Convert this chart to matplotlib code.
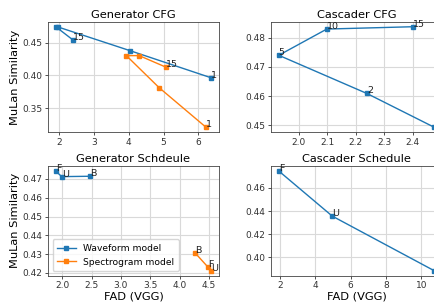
import matplotlib
matplotlib.use("Agg")
import matplotlib.pyplot as plt

# ── data ──
# Generator CFG (guidance scales 1, 2, 5, 10, 15)
gen_cfg_labels = ["1", "", "", "", "15"]
gen_cfg_wave_fad = [6.37, 4.03, 1.97, 1.90, 2.39]
gen_cfg_wave_mulan = [0.3964, 0.4381, 0.4742, 0.4747, 0.4546]
gen_cfg_spec_fad = [6.22, 4.87, 3.93, 4.30, 5.06]
gen_cfg_spec_mulan = [0.3206, 0.3814, 0.4304, 0.4304, 0.4129]

# Cascader CFG
cas_cfg_labels = ["1", "2", "5", "10", "15"]
cas_cfg_fad = [2.476, 2.239, 1.929, 2.098, 2.400]
cas_cfg_mulan = [0.4493, 0.4609, 0.4740, 0.4830, 0.4838]

# Generator schedule
sched_labels = ["F", "U", "B"]
gen_sched_wave_fad = [1.89, 1.99, 2.48]
gen_sched_wave_mulan = [0.4742, 0.4712, 0.4714]
gen_sched_spec_fad = [4.49, 4.54, 4.27]
gen_sched_spec_mulan = [0.4230, 0.4212, 0.4305]

# Cascader schedule
cas_sched_fad = [1.94, 4.96, 10.72]
cas_sched_mulan = [0.4746, 0.4357, 0.3886]

# tick positions
gen_cfg_xticks = [2, 3, 4, 5, 6]
gen_cfg_yticks = [0.35, 0.40, 0.45]
cas_cfg_xticks = [2.0, 2.1, 2.2, 2.3, 2.4]
cas_cfg_yticks = [0.45, 0.46, 0.47, 0.48]
gen_sched_xticks = [2.0, 2.5, 3.0, 3.5, 4.0, 4.5]
gen_sched_yticks = [0.42, 0.43, 0.44, 0.45, 0.46, 0.47]
cas_sched_xticks = [2, 4, 6, 8, 10]
cas_sched_yticks = [0.40, 0.42, 0.44, 0.46]

C_WAVE = "#1f77b4"
C_SPEC = "#ff7f0e"

plt.rcParams["font.family"] = "DejaVu Sans"
plt.rcParams["axes.edgecolor"] = "#444444"
plt.rcParams["xtick.color"] = "#333333"
plt.rcParams["ytick.color"] = "#333333"

fig = plt.figure(figsize=(4.35, 3.03), dpi=100)
W, H = 435, 303


def make_ax(x0, y0, w, h):
    return fig.add_axes([x0 / W, 1 - (y0 + h) / H, w / W, h / H])


ax1 = make_ax(48, 21.7, 171, 110.6)
ax2 = make_ax(271, 21.7, 171, 110.6)
ax3 = make_ax(48, 166, 171, 109.7)
ax4 = make_ax(271, 166, 171, 109.7)

kw = dict(marker="s", markersize=3.2, linewidth=1)
TFS = 8.2
LFS = 8.2


def label_points(ax, xs, ys, labels):
    for x, y, t in zip(xs, ys, labels):
        if t:
            ax.annotate(t, (x, y), fontsize=6.8, color="#222222")


# 1) Generator CFG
ax1.plot(gen_cfg_wave_fad, gen_cfg_wave_mulan, color=C_WAVE, **kw)
ax1.plot(gen_cfg_spec_fad, gen_cfg_spec_mulan, color=C_SPEC, **kw)
label_points(ax1, gen_cfg_wave_fad, gen_cfg_wave_mulan, gen_cfg_labels)
label_points(ax1, gen_cfg_spec_fad, gen_cfg_spec_mulan, gen_cfg_labels)
ax1.set_title("Generator CFG", fontsize=TFS, pad=3)
ax1.set_ylabel("MuLan Similarity", fontsize=LFS, labelpad=2)
ax1.set_xticks(gen_cfg_xticks)
ax1.set_yticks(gen_cfg_yticks)

# 2) Cascader CFG
ax2.plot(cas_cfg_fad, cas_cfg_mulan, color=C_WAVE, **kw)
label_points(ax2, cas_cfg_fad, cas_cfg_mulan, cas_cfg_labels)
ax2.set_title("Cascader CFG", fontsize=TFS, pad=3)
ax2.set_xticks(cas_cfg_xticks)
ax2.set_yticks(cas_cfg_yticks)

# 3) Generator schedule
ax3.plot(gen_sched_wave_fad, gen_sched_wave_mulan, color=C_WAVE,
         label="Waveform model", **kw)
ax3.plot(gen_sched_spec_fad, gen_sched_spec_mulan, color=C_SPEC,
         label="Spectrogram model", **kw)
label_points(ax3, gen_sched_wave_fad, gen_sched_wave_mulan, sched_labels)
label_points(ax3, gen_sched_spec_fad, gen_sched_spec_mulan, sched_labels)
ax3.set_title("Generator Schdeule", fontsize=TFS, pad=3)
ax3.set_ylabel("MuLan Similarity", fontsize=LFS, labelpad=2)
ax3.set_xlabel("FAD (VGG)", fontsize=LFS, labelpad=1)
ax3.set_xticks(gen_sched_xticks)
ax3.set_yticks(gen_sched_yticks)
ax3.legend(loc="lower left", fontsize=6.6, handlelength=2, borderpad=0.5,
           labelspacing=0.5)

# 4) Cascader schedule
ax4.plot(cas_sched_fad, cas_sched_mulan, color=C_WAVE, **kw)
label_points(ax4, cas_sched_fad, cas_sched_mulan, sched_labels)
ax4.set_title("Cascader Schedule", fontsize=TFS, pad=3)
ax4.set_xlabel("FAD (VGG)", fontsize=LFS, labelpad=1)
ax4.set_xticks(cas_sched_xticks)
ax4.set_yticks(cas_sched_yticks)

for ax in (ax1, ax2, ax3, ax4):
    ax.grid(True, color="#d9d9d9", linewidth=0.8)
    ax.set_axisbelow(True)
    ax.tick_params(labelsize=6.5, length=2.5, width=0.6, pad=1.5)
    for s in ax.spines.values():
        s.set_linewidth(0.6)

fig.savefig("out.png", dpi=100)
